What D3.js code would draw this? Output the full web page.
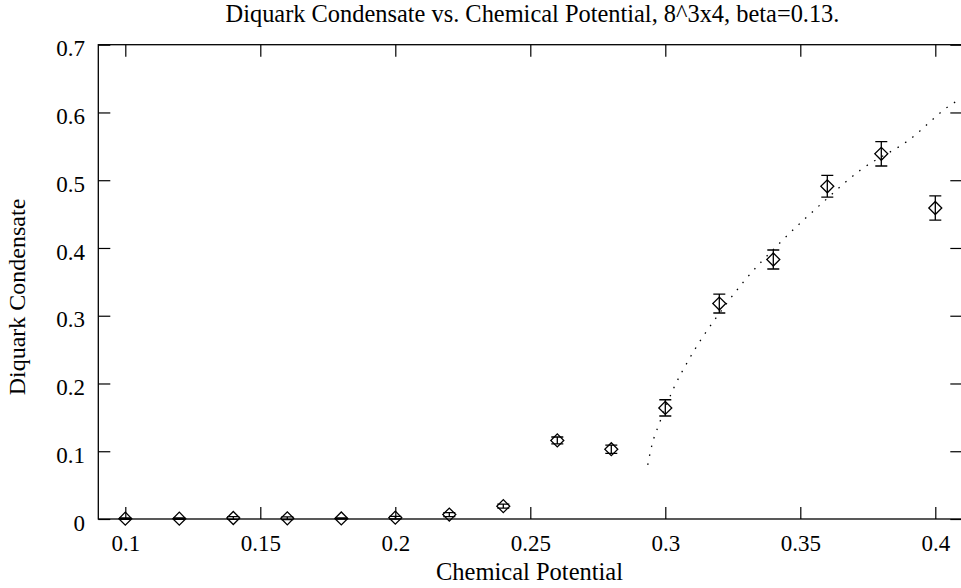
<!DOCTYPE html>
<html>
<head>
<meta charset="utf-8">
<script src="https://cdn.jsdelivr.net/npm/d3@7"></script>
<style>
  body { margin: 0; background: #fff; }
  svg { display: block; }
  svg text { font-family: "Liberation Serif", "DejaVu Serif", serif; fill: #000; }
  .tick line { stroke: #000; stroke-width: 1.2; }
  .tick text { font-size: 23px; }
</style>
</head>
<body>
<svg id="chart" width="961" height="588"></svg>
<script>
'use strict';

// measured data
const mu = [0.10, 0.12, 0.14, 0.16, 0.18, 0.20, 0.22, 0.24, 0.26, 0.28, 0.30, 0.32, 0.34, 0.36, 0.38, 0.40];
const condensate = [0.0005, 0.0005, 0.0015, 0.001, 0.0008, 0.002, 0.0065, 0.019, 0.116, 0.103, 0.164, 0.318, 0.383, 0.491, 0.539, 0.459];
const condErr = [0.001, 0.001, 0.002, 0.002, 0.001, 0.002, 0.003, 0.003, 0.005, 0.006, 0.012, 0.014, 0.014, 0.016, 0.018, 0.018];

// fit curve
const fitMu = [0.2935, 0.2951, 0.2976, 0.3031, 0.3084, 0.3139, 0.3183, 0.3296, 0.3423, 0.358, 0.3723, 0.3898, 0.4078, 0.41];
const fitCond = [0.080, 0.110, 0.139, 0.193, 0.233, 0.269, 0.294, 0.353, 0.407, 0.466, 0.515, 0.558, 0.616, 0.620];

const xTicks = [0.1, 0.15, 0.2, 0.25, 0.3, 0.35, 0.4];
const yTicks = [0, 0.1, 0.2, 0.3, 0.4, 0.5, 0.6, 0.7];

const svg = d3.select('#chart');
const plotLeft = 98.3, plotRight = 962.3, plotTop = 44.7, plotBottom = 519;

const x = d3.scaleLinear().domain([0.09, 0.41]).range([plotLeft, plotRight]);
const y = d3.scaleLinear().domain([0, 0.7]).range([plotBottom, plotTop]);

// AXES (gnuplot style, ticks inward, mirrored)
const fmt = d => String(d);

svg.append('g').attr('transform', `translate(0, ${ plotBottom })`)
  .call(d3.axisBottom(x).tickValues(xTicks).tickFormat(fmt).tickSizeInner(-12).tickSizeOuter(0).tickPadding(15.7))
  .call(g => g.select('.domain').remove());

svg.append('g').attr('transform', `translate(0, ${ plotTop })`)
  .call(d3.axisTop(x).tickValues(xTicks).tickFormat('').tickSizeInner(-12).tickSizeOuter(0))
  .call(g => g.select('.domain').remove());

svg.append('g').attr('transform', `translate(${ plotLeft }, 0)`)
  .call(d3.axisLeft(y).tickValues(yTicks).tickFormat(fmt).tickSizeInner(-12).tickSizeOuter(0).tickPadding(13.3))
  .call(g => g.select('.domain').remove())
  .call(g => g.selectAll('text').attr('dy', '0.48em'));

svg.append('g').attr('transform', `translate(${ plotRight }, 0)`)
  .call(d3.axisRight(y).tickValues(yTicks).tickFormat('').tickSizeInner(-12).tickSizeOuter(0))
  .call(g => g.select('.domain').remove());

svg.selectAll('g').attr('font-family', null).attr('font-size', null);

// FRAME
svg.append('rect')
  .attr('x', plotLeft).attr('y', plotTop)
  .attr('width', plotRight - plotLeft).attr('height', plotBottom - plotTop)
  .style('fill', 'none').style('stroke', '#000').style('stroke-width', 1.3);

// TEXTS
svg.append('text').attr('x', 532.5).attr('y', 22).attr('text-anchor', 'middle')
  .style('font-size', '24.4px')
  .text('Diquark Condensate vs. Chemical Potential, 8^3x4, beta=0.13.');

svg.append('text').attr('x', 529.5).attr('y', 580).attr('text-anchor', 'middle')
  .style('font-size', '24.5px')
  .text('Chemical Potential');

svg.append('text').attr('transform', 'translate(25, 297) rotate(-90)').attr('text-anchor', 'middle')
  .style('font-size', '24px')
  .text('Diquark Condensate');

// FIT CURVE
const fitData = fitMu.map((m, i) => ({ mu: m, c: fitCond[i] }));
const fitLine = d3.line().curve(d3.curveMonotoneX).x(d => x(d.mu)).y(d => y(d.c));
svg.append('path').datum(fitData).attr('d', fitLine)
  .style('fill', 'none').style('stroke', '#000').style('stroke-width', 1.3)
  .style('stroke-dasharray', '1.5,7.5');

// DATA WITH ERROR BARS
const data = mu.map((m, i) => ({ mu: m, c: condensate[i], e: condErr[i] }));
const points = svg.append('g').selectAll('g').data(data).join('g')
  .attr('transform', d => `translate(${ x(d.mu) }, 0)`)
  .style('stroke', '#000').style('stroke-width', 1.3).style('fill', 'none');

points.append('path')
  .attr('d', d => `M0,${ y(d.c + d.e) }V${ y(d.c - d.e) }M-6,${ y(d.c + d.e) }h12M-6,${ y(d.c - d.e) }h12`);

points.append('path')
  .attr('transform', d => `translate(0, ${ y(d.c) }) rotate(45)`)
  .attr('d', d3.symbol(d3.symbolSquare, 84));
</script>
</body>
</html>
